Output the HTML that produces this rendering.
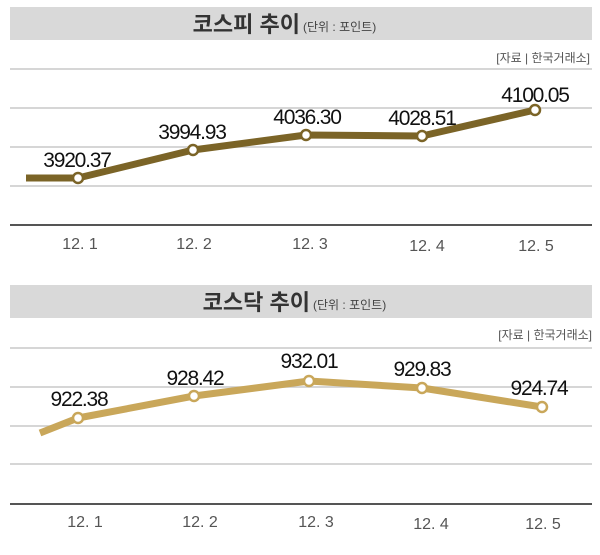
<!DOCTYPE html>
<html><head><meta charset="utf-8"><style>
body{margin:0;background:#fff;}
svg text{font-family:"Liberation Sans","Noto Sans CJK KR",sans-serif;}
</style></head><body>
<svg width="600" height="550" viewBox="0 0 600 550" xmlns="http://www.w3.org/2000/svg">
<rect width="600" height="550" fill="#fff"/>
<!-- top chart -->
<rect x="10" y="7" width="582" height="33" fill="#d9d9d9"/>
<text x="300" y="32" text-anchor="end" font-size="22" font-weight="bold" fill="#333">코스피 추이</text>
<text x="303" y="31" font-size="12" fill="#444">(단위 : 포인트)</text>
<text x="590" y="62" text-anchor="end" font-size="12" fill="#555">[자료 | 한국거래소]</text>
<g stroke="#c8c8c8" stroke-width="1.5">
<line x1="10" y1="69" x2="592" y2="69"/><line x1="10" y1="108" x2="592" y2="108"/>
<line x1="10" y1="147" x2="592" y2="147"/><line x1="10" y1="186" x2="592" y2="186"/>
</g>
<line x1="10" y1="225" x2="592" y2="225" stroke="#555" stroke-width="2"/>
<polyline points="26,178 78,178 193,150 306,135 422,136 535,110" fill="none" stroke="#7b6427" stroke-width="7" stroke-linejoin="round"/>
<g fill="#fff" stroke="#7b6427" stroke-width="2.5">
<circle cx="78" cy="178" r="5"/><circle cx="193" cy="150" r="5"/><circle cx="306" cy="135" r="5"/><circle cx="422" cy="136" r="5"/><circle cx="535" cy="110" r="5"/>
</g>
<g font-size="21" fill="#111" text-anchor="middle" letter-spacing="-1.2">
<text x="77" y="167">3920.37</text><text x="192" y="139">3994.93</text><text x="307" y="124">4036.30</text><text x="422" y="125">4028.51</text><text x="535" y="102">4100.05</text>
</g>
<g font-size="16" fill="#555" text-anchor="middle">
<text x="80" y="249">12. 1</text><text x="194" y="249">12. 2</text><text x="310" y="249">12. 3</text><text x="427" y="251">12. 4</text><text x="536" y="251">12. 5</text>
</g>
<!-- bottom chart -->
<rect x="10" y="285" width="582" height="33" fill="#d9d9d9"/>
<text x="310" y="310" text-anchor="end" font-size="22" font-weight="bold" fill="#333">코스닥 추이</text>
<text x="313" y="309" font-size="12" fill="#444">(단위 : 포인트)</text>
<text x="592" y="339" text-anchor="end" font-size="12" fill="#555">[자료 | 한국거래소]</text>
<g stroke="#c8c8c8" stroke-width="1.5">
<line x1="10" y1="348" x2="592" y2="348"/><line x1="10" y1="387" x2="592" y2="387"/>
<line x1="10" y1="426" x2="592" y2="426"/><line x1="10" y1="464" x2="592" y2="464"/>
</g>
<line x1="10" y1="504" x2="592" y2="504" stroke="#555" stroke-width="2"/>
<polyline points="40,433 78,418 194,396 309,381 422,388 542,407" fill="none" stroke="#c9a75a" stroke-width="7" stroke-linejoin="round"/>
<g fill="#fff" stroke="#c9a75a" stroke-width="2.5">
<circle cx="78" cy="418" r="5"/><circle cx="194" cy="396" r="5"/><circle cx="309" cy="381" r="5"/><circle cx="422" cy="388" r="5"/><circle cx="542" cy="407" r="5"/>
</g>
<g font-size="21" fill="#111" text-anchor="middle" letter-spacing="-1.2">
<text x="79" y="406">922.38</text><text x="195" y="385">928.42</text><text x="309" y="368">932.01</text><text x="422" y="376">929.83</text><text x="539" y="395">924.74</text>
</g>
<g font-size="16" fill="#555" text-anchor="middle">
<text x="85" y="527">12. 1</text><text x="200" y="527">12. 2</text><text x="316" y="527">12. 3</text><text x="431" y="529">12. 4</text><text x="543" y="529">12. 5</text>
</g>
</svg>
</body></html>
